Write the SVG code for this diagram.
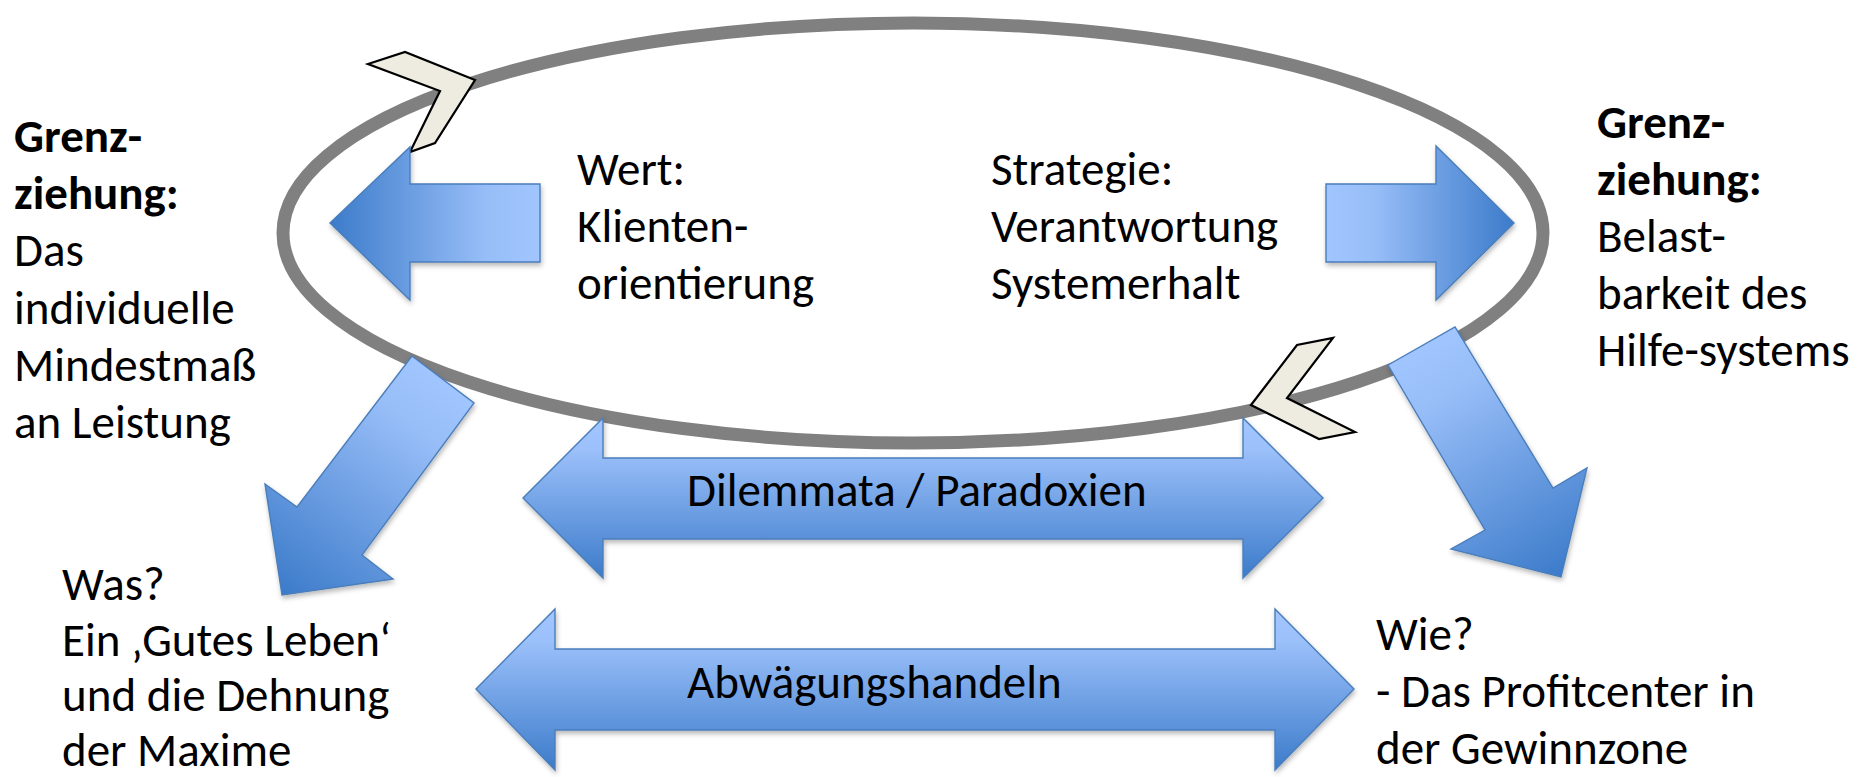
<svg xmlns="http://www.w3.org/2000/svg" width="1862" height="777" viewBox="0 0 1862 777">
<style>
  text { font-family: Carlito, Lato, "Liberation Sans", sans-serif; font-size: 47px; fill: #000; }
  .b { font-weight: bold; }
  .arrow { stroke: #4a7ebb; stroke-width: 1.4; stroke-linejoin: miter; filter: url(#sh); }
  .chev { fill: #eeece1; stroke: #000; stroke-width: 2.2; stroke-linejoin: miter; }
</style>
<defs>
  <filter id="sh" x="-10%" y="-10%" width="120%" height="130%">
    <feDropShadow dx="1" dy="3" stdDeviation="2.5" flood-color="#000" flood-opacity="0.28"/>
  </filter>
  <linearGradient id="gV" x1="0" y1="0" x2="0" y2="1">
    <stop offset="0" stop-color="#a3c6ff"/>
    <stop offset="0.2" stop-color="#9bc0fa"/>
    <stop offset="1" stop-color="#3c7bca"/>
  </linearGradient>
  <linearGradient id="gL" gradientUnits="userSpaceOnUse" x1="540" y1="0" x2="330" y2="0">
    <stop offset="0" stop-color="#a0c5ff"/>
    <stop offset="0.25" stop-color="#98bef8"/>
    <stop offset="1" stop-color="#3c7bca"/>
  </linearGradient>
  <linearGradient id="gR" gradientUnits="userSpaceOnUse" x1="1326" y1="0" x2="1514" y2="0">
    <stop offset="0" stop-color="#a0c5ff"/>
    <stop offset="0.25" stop-color="#98bef8"/>
    <stop offset="1" stop-color="#3c7bca"/>
  </linearGradient>
  <linearGradient id="gDL" gradientUnits="userSpaceOnUse" x1="443" y1="380" x2="282" y2="595">
    <stop offset="0" stop-color="#a0c5ff"/>
    <stop offset="0.2" stop-color="#98bef8"/>
    <stop offset="1" stop-color="#3c7bca"/>
  </linearGradient>
  <linearGradient id="gDR" gradientUnits="userSpaceOnUse" x1="1421" y1="346" x2="1561" y2="577">
    <stop offset="0" stop-color="#a0c5ff"/>
    <stop offset="0.2" stop-color="#98bef8"/>
    <stop offset="1" stop-color="#3c7bca"/>
  </linearGradient>
</defs>
<rect width="1862" height="777" fill="#fff"/>

<g id="ellipse">
  <ellipse cx="913" cy="233" rx="630" ry="210" fill="#fff" stroke="#808080" stroke-width="13"/>
</g>

<g id="chevron-top-left">
  <polygon class="chev" points="368,64 405,52 475,80 435,143 410,152 440,91"/>
</g>
<g id="chevron-bottom-right">
  <polygon class="chev" points="1251,405 1297,345 1333,338 1287,398 1355,432 1319,439"/>
</g>

<g id="connectors">
  <polygon class="arrow" fill="url(#gL)" points="330,223 410,147 410,184 540,184 540,262 410,262 410,300"/>
  <polygon class="arrow" fill="url(#gR)" points="1514,223 1436,146 1436,184 1326,184 1326,262 1436,262 1436,300"/>
  <polygon class="arrow" fill="url(#gDL)" points="412,356 474,403 362,555 393,579 282,595 265,484 297,507"/>
  <polygon class="arrow" fill="url(#gDR)" points="1388,365 1455,327 1553,488 1587,468 1561,577 1451,549 1485,530"/>
  <polygon class="arrow" fill="url(#gV)" points="523,498 603,418 603,458 1243,458 1243,418 1323,498 1243,578 1243,539 603,539 603,578"/>
  <polygon class="arrow" fill="url(#gV)" points="476,689 555,609 555,649 1275,649 1275,609 1354,689 1275,770 1275,730 555,730 555,770"/>
</g>

<g id="label-wert">
  <text x="577" y="185">Wert:</text>
  <text x="577" y="242">Klienten-</text>
  <text x="577" y="299">orientierung</text>
</g>
<g id="label-strategie">
  <text x="991" y="185">Strategie:</text>
  <text x="991" y="242">Verantwortung</text>
  <text x="991" y="299">Systemerhalt</text>
</g>
<g id="label-left">
  <text x="14" y="152" class="b">Grenz-</text>
  <text x="14" y="209" class="b">ziehung:</text>
  <text x="14" y="266">Das</text>
  <text x="14" y="324">individuelle</text>
  <text x="14" y="381">Mindestmaß</text>
  <text x="14" y="438">an Leistung</text>
</g>
<g id="label-right">
  <text x="1597" y="138" class="b">Grenz-</text>
  <text x="1597" y="195" class="b">ziehung:</text>
  <text x="1597" y="252">Belast-</text>
  <text x="1597" y="309">barkeit des</text>
  <text x="1597" y="366">Hilfe-systems</text>
</g>
<g id="label-dilemmata">
  <text x="687" y="506">Dilemmata / Paradoxien</text>
</g>
<g id="label-abwaegung">
  <text x="687" y="698">Abwägungshandeln</text>
</g>
<g id="label-was">
  <text x="62" y="600">Was?</text>
  <text x="62" y="656">Ein ‚Gutes Leben‘</text>
  <text x="62" y="711">und die Dehnung</text>
  <text x="62" y="766">der Maxime</text>
</g>
<g id="label-wie">
  <text x="1376" y="650">Wie?</text>
  <text x="1376" y="707">- Das Profitcenter in</text>
  <text x="1376" y="764">der Gewinnzone</text>
</g>
</svg>
